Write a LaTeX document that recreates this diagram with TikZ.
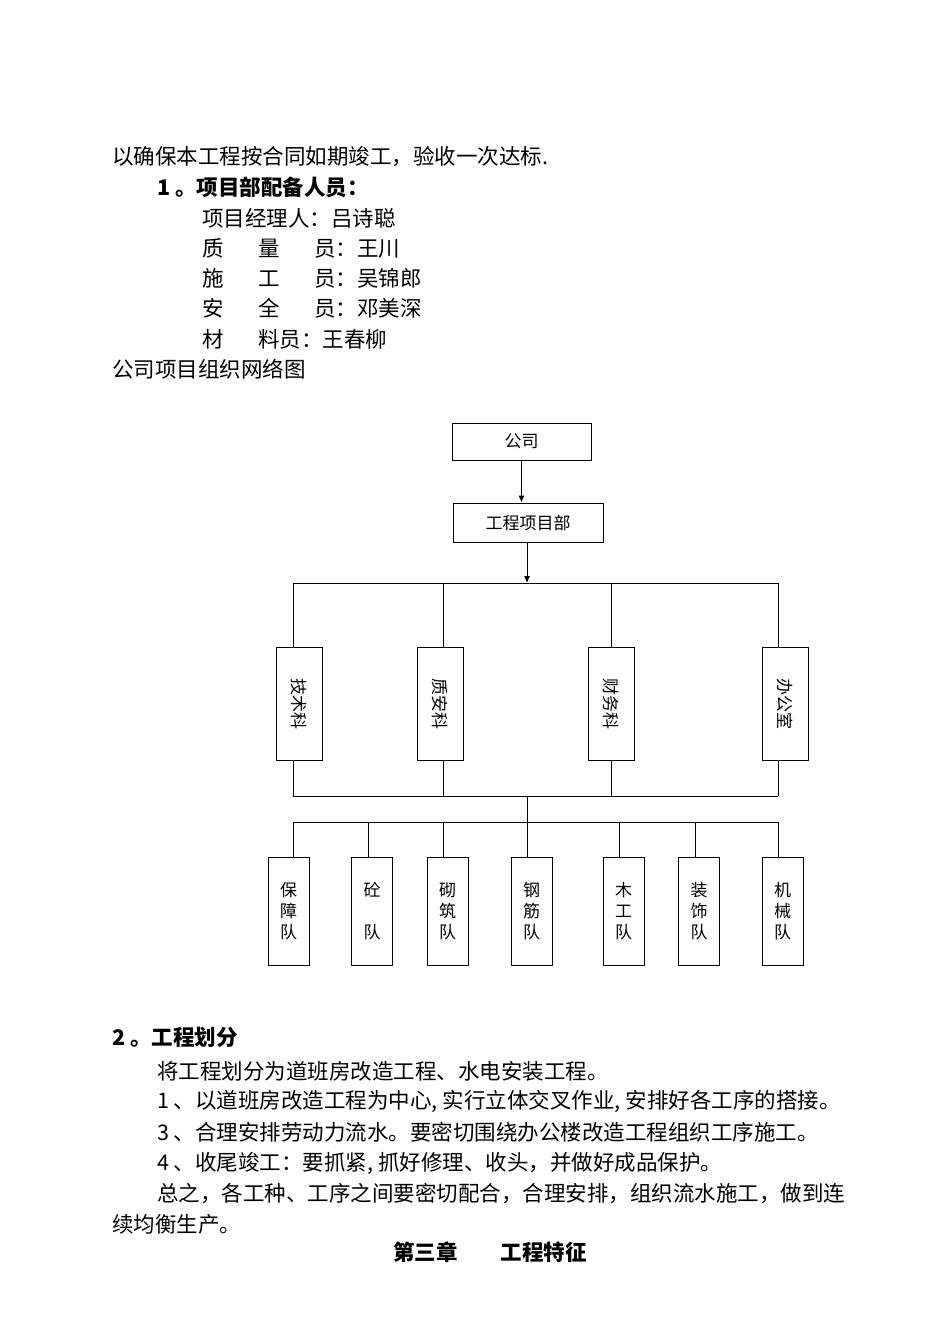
\documentclass[tikz,border=0pt]{standalone}
\usepackage{fontspec}
\setmainfont{Noto Sans CJK SC}
\usetikzlibrary{arrows.meta}
\tikzstyle{line} = [anchor=west, inner sep=0pt, font=\fontsize{21.5}{21.5}\selectfont]
\tikzstyle{head} = [line, font=\fontsize{21.5}{21.5}\selectfont\bfseries]
\tikzstyle{unit} = [rectangle, draw=black, line width=1pt, font=\fontsize{17}{21}\selectfont, inner sep=0pt]
\tikzstyle{dept} = [unit, minimum width=46pt, minimum height=113pt]
\tikzstyle{team} = [unit, minimum width=41pt, minimum height=108pt, align=center]
\tikzstyle{arrow} = [line width=1pt,-{Latex[length=7pt,width=6pt]}]
\tikzstyle{wire} = [line width=1pt]

\begin{document}
\begin{tikzpicture}[x=1pt,y=-1pt]
	\useasboundingbox (0,0) rectangle (950,1344);
	% page text above the chart
	\node (t1) [line] at (112,157) {以确保本工程按合同如期竣工，验收一次达标.};
	\node (t2) [head] at (157,187) {1 。项目部配备人员：};
	\node (t3) [line] at (202,218) {项目经理人：吕诗聪};
	\node (t4) [line] at (202,248) {质\hspace{1.6em}量\hspace{1.6em}员：王川};
	\node (t5) [line] at (202,278) {施\hspace{1.6em}工\hspace{1.6em}员：吴锦郎};
	\node (t6) [line] at (202,308) {安\hspace{1.6em}全\hspace{1.6em}员：邓美深};
	\node (t7) [line] at (202,339) {材\hspace{1.6em}料员：王春柳};
	\node (t8) [line] at (112,369) {公司项目组织网络图};

	% chart
	\node (co) [unit, minimum width=139pt, minimum height=37pt] at (521.5,441.5) {公司};
	\node (pm) [unit, minimum width=150pt, minimum height=39pt] at (528,522.5) {工程项目部};
	\node (d1) [dept] at (299,703.5) {\rotatebox{-90}{技术科}};
	\node (d2) [dept] at (440,703.5) {\rotatebox{-90}{质安科}};
	\node (d3) [dept] at (611,703.5) {\rotatebox{-90}{财务科}};
	\node (d4) [dept] at (785,703.5) {\rotatebox{-90}{办公室}};
	\node (b1) [team] at (288.5,911) {保\\障\\队};
	\node (b2) [team] at (372,911) {砼\\[21pt]队};
	\node (b3) [team] at (447.5,911) {砌\\筑\\队};
	\node (b4) [team] at (531.5,911) {钢\\筋\\队};
	\node (b5) [team] at (623.5,911) {木\\工\\队};
	\node (b6) [team] at (699,911) {装\\饰\\队};
	\node (b7) [team] at (782.5,911) {机\\械\\队};
	\coordinate (top) at (527,583);
	\coordinate (mid) at (527,796);
	\coordinate (low) at (527,822);

	\draw [arrow] (co.south) -- (co.south |- pm.north);
	\draw [arrow] (pm.south -| top) -- (top);
	\draw [wire] (293,583) -- (778,583);
	\draw [wire] (293,796) -- (778,796);
	\draw [wire] (293,822) -- (778,822);
	\draw [wire] (mid) -- (low);
	\foreach \d/\x in {d1/293,d2/443,d3/611,d4/778} {
		\draw [wire] (\x,583) -- (\x,647);
		\draw [wire] (\x,760) -- (\x,796);
	}
	\foreach \b/\x in {b1/293,b2/368,b3/443,b4/527,b5/619,b6/695,b7/778}
		\draw [wire] (\x,822) -- (\x,857);

	% page text below the chart
	\node (s1) [head] at (112,1037) {2 。工程划分};
	\node (s2) [line] at (157,1071) {将工程划分为道班房改造工程、水电安装工程。};
	\node (s3) [line] at (157,1101) {1 、以道班房改造工程为中心, 实行立体交叉作业, 安排好各工序的搭接。};
	\node (s4) [line] at (157,1132) {3 、合理安排劳动力流水。要密切围绕办公楼改造工程组织工序施工。};
	\node (s5) [line] at (157,1163) {4 、收尾竣工：要抓紧, 抓好修理、收头，并做好成品保护。};
	\node (s6) [line] at (157,1193) {总之，各工种、工序之间要密切配合，合理安排，组织流水施工，做到连};
	\node (s7) [line] at (112,1224) {续均衡生产。};
	\node (s8) [head, anchor=center] at (490,1252) {第三章\hspace{2em}工程特征};
\end{tikzpicture}
\end{document}
